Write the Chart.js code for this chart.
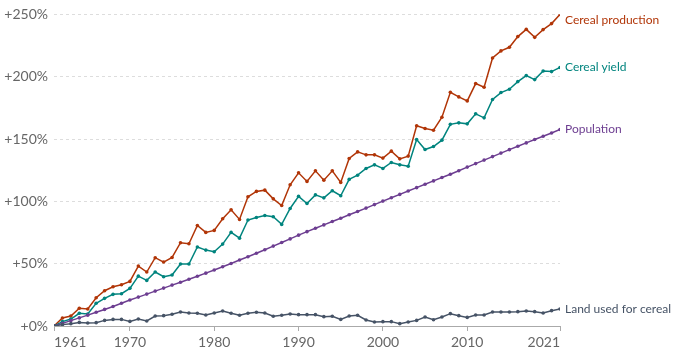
<!DOCTYPE html>
<html>
<head>
<meta charset="utf-8">
<script src="https://cdn.jsdelivr.net/npm/chart.js@4"></script>
<style>
html,body{margin:0;padding:0;background:#fff;}
#wrap{width:674px;height:352px;}
</style>
</head>
<body>
<div id="wrap"><canvas id="c" width="674" height="352"></canvas></div>
<script>
const years = [];
for (let y = 1961; y <= 2021; y++) years.push(y);

const xTickYears = [1961, 1970, 1980, 1990, 2000, 2010, 2021];
const yTickValues = [0, 50, 100, 150, 200, 250];

const production = [
  0, 6.4, 8, 14.2, 13.6, 22.7, 28.3, 31.5, 33.1, 35.8,
  48.1, 43.3, 54.8, 51.3, 55, 66.8, 66, 80.6, 75.1, 76.7,
  86, 93.2, 85.5, 103.7, 108, 109, 102, 96.7, 113.3, 122.9,
  116, 124.5, 117, 124.5, 115.2, 134.4, 139.7, 137.3, 137.3, 134.7,
  140.3, 134.1, 136.3, 160.6, 158.4, 157.1, 167.5, 187.5, 183.8, 180.6,
  194.5, 191.6, 215, 220.7, 223.6, 232.2, 238, 231.6, 237.8, 242.6, 250
];
const cerealYield = [
  0, 3.5, 5.6, 10.2, 9.6, 18.2, 22.2, 25.4, 25.9, 30.2,
  40, 36.6, 43.3, 39.5, 40.9, 49.7, 49.7, 63.4, 60.9, 59.6,
  65.7, 75.1, 70.5, 85, 87.1, 88.7, 87.6, 81.5, 94.3, 104,
  98.3, 105.2, 102.8, 108.5, 104.5, 117.6, 121, 126.4, 129.3, 126.4,
  131.2, 129.3, 128.2, 149.6, 141.6, 144, 149.1, 161.8, 163, 162.2,
  170.2, 167, 181.7, 187.3, 190, 196.1, 200.9, 197.7, 204.6, 204.1, 207.4
];
const population = [
  0, 2.1, 4.3, 6.5, 8.7, 11.0, 13.3, 15.7, 18.2, 20.8,
  23.2, 25.6, 28.0, 30.4, 32.8, 35.1, 37.5, 39.9, 42.4, 44.9,
  47.5, 50.2, 52.9, 55.6, 58.4, 61.2, 64.1, 67.0, 69.9, 72.9,
  75.7, 78.4, 81.1, 83.8, 86.5, 89.2, 91.9, 94.6, 97.4, 100.2,
  102.9, 105.6, 108.3, 111.0, 113.7, 116.4, 119.1, 121.8, 124.6, 127.5,
  130.3, 133.1, 135.9, 138.7, 141.5, 144.2, 146.9, 149.6, 152.2, 154.9, 157.6
];
const land = [
  0, 1.1, 1.9, 2.9, 2.4, 2.7, 4.5, 5.3, 5.3, 3.7,
  5.6, 4, 8, 8.3, 9.4, 11.2, 10.4, 10.2, 8.8, 10.4,
  12, 10.2, 8.6, 10.2, 11, 10.4, 7.8, 8.6, 9.6, 9.1,
  9.1, 9.1, 7.5, 7.8, 5.3, 8, 8.6, 4.8, 3.2, 3.5,
  3.5, 1.9, 3.2, 4.5, 7.2, 5, 7.2, 9.9, 8.3, 6.9,
  8.8, 8.8, 11.2, 11.2, 11.2, 11.5, 12, 11.5, 10.4, 12.3, 13.6
];

const seriesNames = ["Cereal production", "Cereal yield", "Population", "Land used for cereal"];
const seriesColors = ["#b13507", "#00847e", "#6d3e91", "#465366"];
const seriesValues = [production, cerealYield, population, land];

const FONT = "Lato, 'Noto Sans', sans-serif";

const datasets = seriesValues.map((vals, i) => ({
  label: seriesNames[i],
  data: vals.map((v, k) => ({x: years[k], y: v})),
  borderColor: seriesColors[i],
  backgroundColor: seriesColors[i],
  pointBackgroundColor: seriesColors[i],
  pointBorderColor: seriesColors[i],
  borderWidth: 1.5,
  pointRadius: 1.8,
  pointBorderWidth: 0,
  pointHoverRadius: 0,
  tension: 0,
  order: 4 - i
}));

const endLabels = {
  id: 'endLabels',
  afterDatasetsDraw(chart) {
    const ctx = chart.ctx;
    ctx.save();
    ctx.font = "12px " + FONT;
    ctx.textBaseline = 'middle';
    ctx.textAlign = 'left';
    chart.data.datasets.forEach((ds, i) => {
      const meta = chart.getDatasetMeta(i);
      const pt = meta.data[meta.data.length - 1];
      ctx.fillStyle = ds.borderColor;
      const y = Math.max(pt.y, chart.chartArea.top + 6);
      ctx.fillText(ds.label, pt.x + 5, y);
    });
    ctx.restore();
  }
};

new Chart(document.getElementById('c'), {
  type: 'line',
  data: { datasets },
  options: {
    responsive: false,
    animation: false,
    events: [],
    layout: { padding: { top: 14, right: 114, bottom: 0, left: 0 } },
    plugins: { legend: { display: false }, tooltip: { enabled: false } },
    scales: {
      x: {
        type: 'linear',
        min: 1961,
        max: 2021,
        afterBuildTicks(scale) { scale.ticks = xTickYears.map(v => ({value: v})); },
        afterFit(scale) { scale.height = 26; },
        ticks: {
          callback: v => String(v),
          align: 'inner',
          maxRotation: 0,
          autoSkip: false,
          padding: 3,
          color: '#666',
          font: { family: FONT, size: 14 }
        },
        grid: { drawOnChartArea: false, drawTicks: true, tickLength: 5, color: '#aaa' },
        border: { display: true, color: '#aaa', width: 1 }
      },
      y: {
        min: 0,
        max: 250,
        afterBuildTicks(scale) { scale.ticks = yTickValues.map(v => ({value: v})); },
        afterFit(scale) { scale.width = 54; },
        ticks: {
          callback: v => '+' + v + '%',
          padding: 6,
          color: '#666',
          font: { family: FONT, size: 14 }
        },
        grid: { drawTicks: false, color: '#dddddd', lineWidth: 1 },
        border: { display: false, dash: [3, 3] }
      }
    }
  },
  plugins: [endLabels]
});
</script>
</body>
</html>
